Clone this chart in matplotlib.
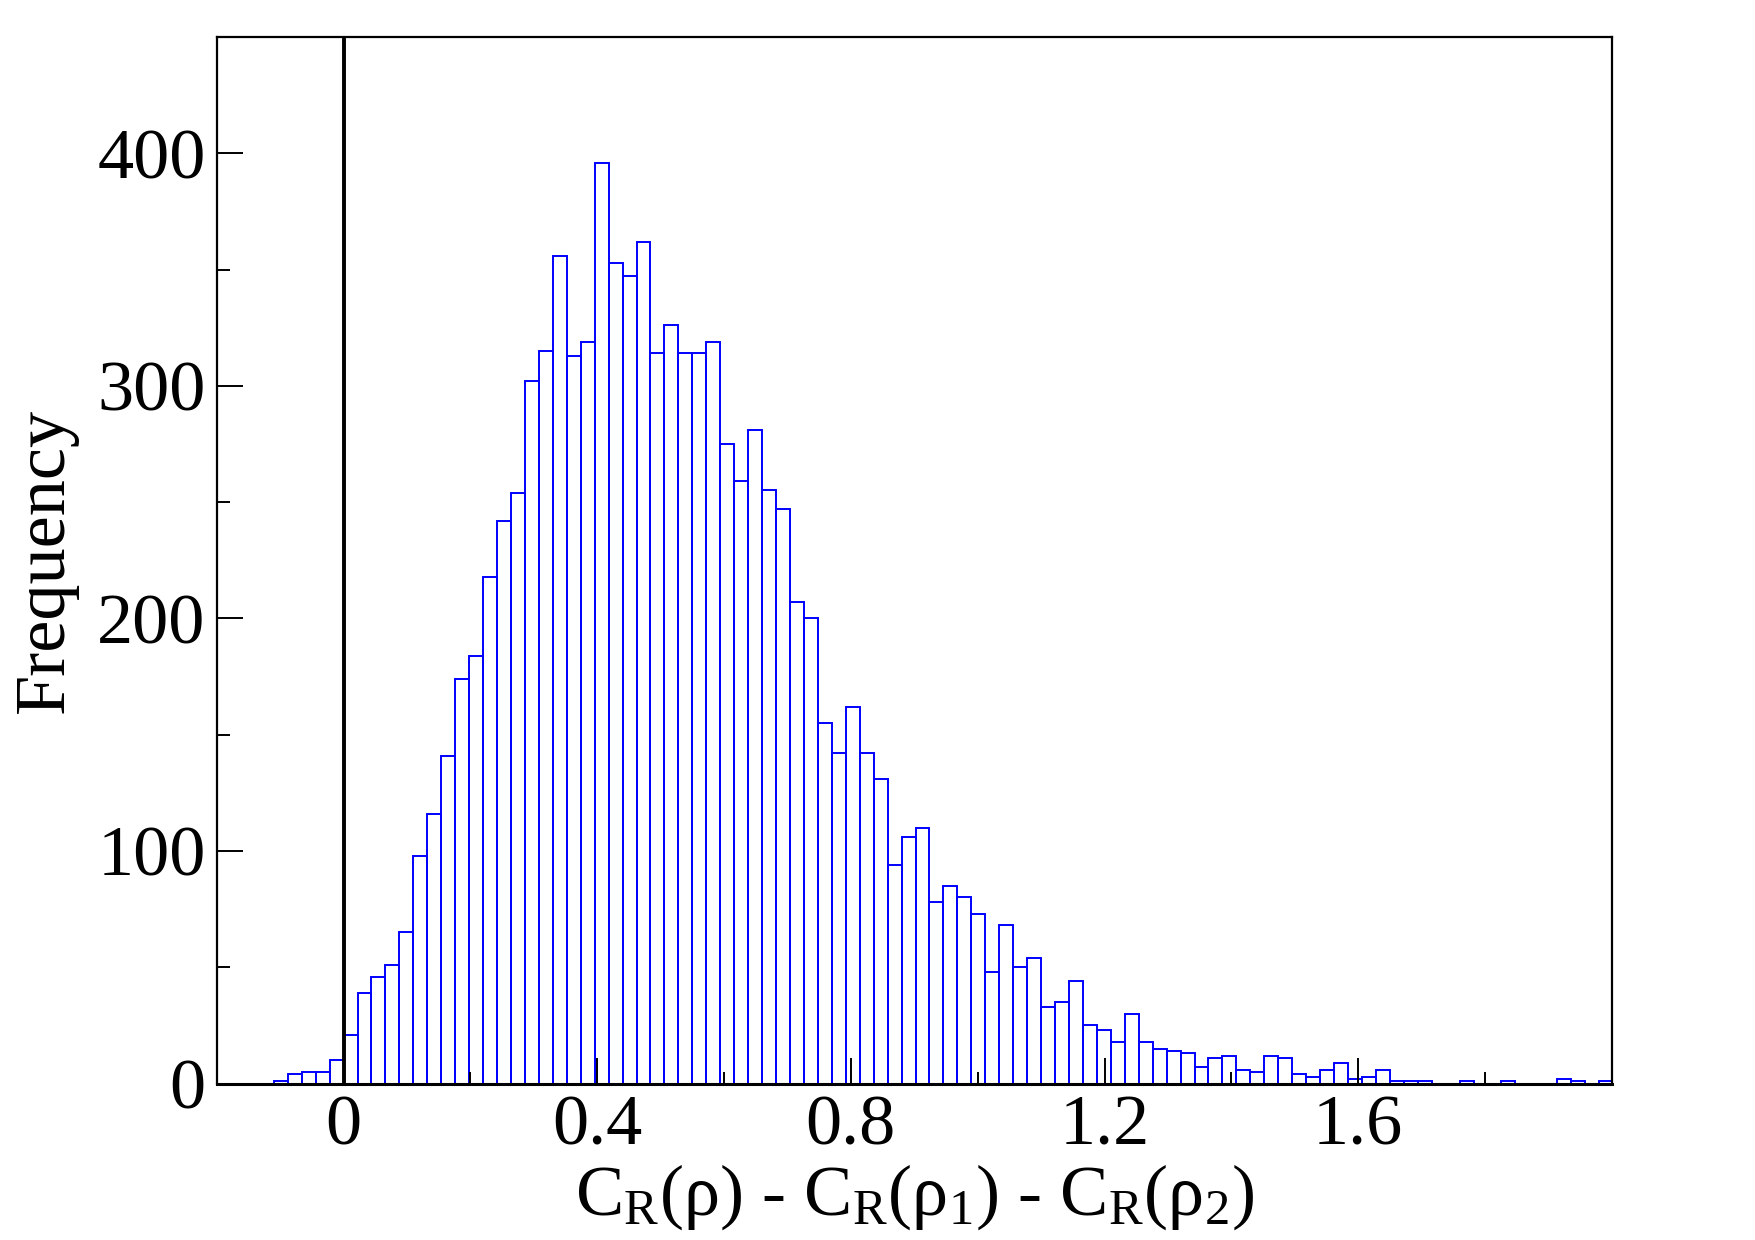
import matplotlib
matplotlib.use('Agg')
import matplotlib.pyplot as plt
import numpy as np

plt.rcParams['font.family'] = ['Liberation Serif', 'DejaVu Serif']
plt.rcParams['mathtext.fontset'] = 'custom'
plt.rcParams['mathtext.rm'] = 'Liberation Serif'
plt.rcParams['mathtext.it'] = 'Liberation Serif:italic'

# histogram: first bin left edge, bin width, counts
bin_start = -0.11
bin_width = 0.022
counts = [1, 4, 5, 5, 10,
          21, 39, 46, 51, 65, 98, 116, 141, 174, 184,
          218, 242, 254, 302, 315, 356, 313, 319, 396, 353,
          347, 362, 314, 326, 314, 314, 319, 275, 259, 281,
          255, 247, 207, 200, 155, 142, 162, 142, 131, 94,
          106, 110, 78, 85, 80, 73, 48, 68, 50, 54,
          33, 35, 44, 25, 23, 18, 30, 18, 15, 14,
          13, 7, 11, 12, 6, 5, 12, 11, 4, 3,
          6, 9, 2, 3, 6, 1, 1, 1, 0, 0,
          1, 0, 0, 1, 0, 0, 0, 2, 1, 0, 1]

xticks = [0, 0.4, 0.8, 1.2, 1.6]
xtick_labels = ['0', '0.4', '0.8', '1.2', '1.6']
yticks = [0, 100, 200, 300, 400]

lefts = bin_start + bin_width * np.arange(len(counts))

fig = plt.figure(figsize=(17.55, 12.4), dpi=100)
ax = fig.add_axes([0.1235, 0.1262, 0.7949, 0.844])

ax.bar(lefts, counts, width=bin_width, align='edge', fill=False,
       edgecolor='#0000ff', linewidth=1.4)
ax.axvline(0, color='black', linewidth=2.8, zorder=3)

ax.set_xlim(-0.2, 2.0)
ax.set_ylim(0, 450)
ax.set_xticks(xticks)
ax.set_xticklabels(xtick_labels)
ax.set_xticks(np.arange(0.2, 2.0, 0.4), minor=True)
ax.set_yticks(yticks)
ax.set_yticks(np.arange(50, 450, 100), minor=True)

ax.tick_params(which='major', direction='in', length=18.5, width=1.4,
               labelsize=52, top=False, right=False)
ax.tick_params(which='minor', direction='in', length=9, width=1.4,
               top=False, right=False)
ax.tick_params(axis='x', which='major', pad=8)
ax.tick_params(axis='y', which='major', pad=8)

for s in ax.spines.values():
    s.set_linewidth(1.6)
ax.spines['bottom'].set_linewidth(2.2)

ax.set_xlabel(r'C$_\mathrm{R}$(ρ) - C$_\mathrm{R}$(ρ$_\mathrm{1}$) - C$_\mathrm{R}$(ρ$_\mathrm{2}$)',
              fontsize=52, labelpad=2)
ax.set_ylabel('Frequency', fontsize=52, labelpad=14)

fig.savefig('out.png', dpi=100)
